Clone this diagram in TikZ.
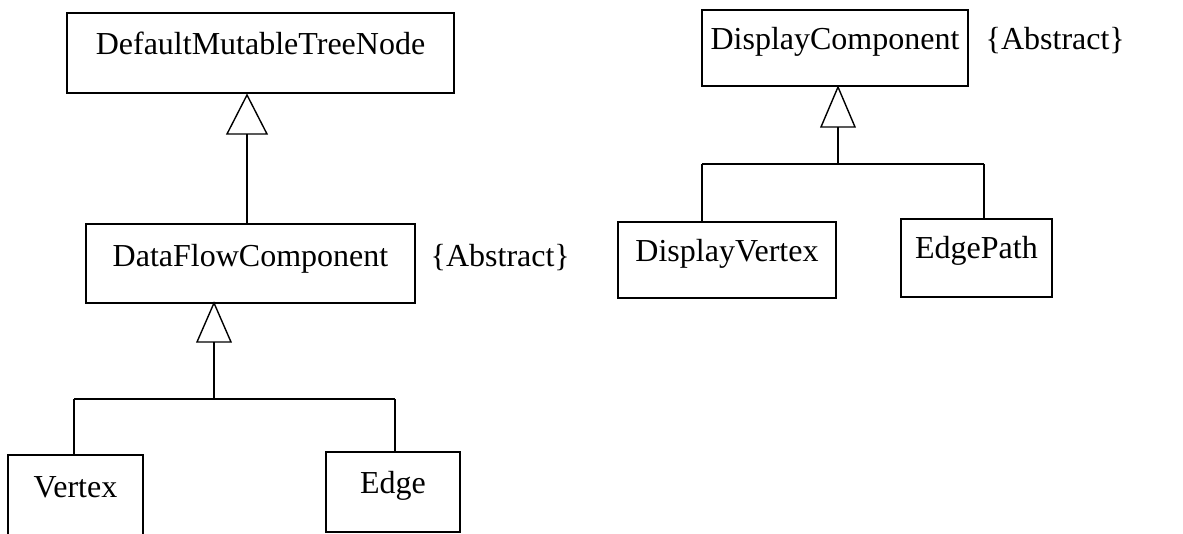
\documentclass[tikz,border=0pt]{standalone}
\usepackage{fontspec}
\setmainfont{Liberation Serif}
\begin{document}
\begin{tikzpicture}[x=1pt,y=-1pt,line width=1.4pt,
  cls/.style={draw,rectangle,inner sep=0pt},
  lbl/.style={anchor=base,inner sep=0pt,font=\fontsize{32}{38}\selectfont},
  gen/.style={draw,fill=white,line join=miter}]
\useasboundingbox (0,0) rectangle (1183,534);
\clip (0,0) rectangle (1183,534);
% boxes
\node[cls,minimum width=387pt,minimum height=80pt] (dmtn) at (260.5,53) {};
\node[cls,minimum width=329pt,minimum height=79pt] (dfc) at (250.5,263.5) {};
\node[cls,minimum width=135pt,minimum height=84pt] (vtx) at (75.5,497) {};
\node[cls,minimum width=134pt,minimum height=80pt] (edge) at (393,492) {};
\node[cls,minimum width=266pt,minimum height=76pt] (dc) at (835,48) {};
\node[cls,minimum width=218pt,minimum height=76pt] (dv) at (727,260) {};
\node[cls,minimum width=151pt,minimum height=78pt] (ep) at (976.5,258) {};
% labels
\node[lbl] (dmtnT) at (260.5,55) {DefaultMutableTreeNode};
\node[lbl] (dfcT) at (250.5,267) {DataFlowComponent};
\node[lbl,anchor=base west] (abs1) at (430,267) {\{Abstract\}};
\node[lbl] (vtxT) at (75.5,497) {Vertex};
\node[lbl] (edgeT) at (393,493) {Edge};
\node[lbl] (dcT) at (835,50) {DisplayComponent};
\node[lbl,anchor=base west] (abs2) at (985,50) {\{Abstract\}};
\node[lbl] (dvT) at (727,262) {DisplayVertex};
\node[lbl] (epT) at (976.5,259) {EdgePath};
% generalization 1
\coordinate (t1) at (247,134);
\draw (t1) -- (247,0 |- dfc.north);
\draw[gen] (247,95) -- (267,134) -- (227,134) -- cycle;
% generalization 2
\coordinate (t2) at (214,342);
\coordinate (j2) at (214,399);
\coordinate (j2l) at (74,399);
\coordinate (j2r) at (395,399);
\draw (t2) -- (j2);
\draw (j2l) -- (j2r);
\draw (j2l) -- (j2l |- vtx.north);
\draw (j2r) -- (j2r |- edge.north);
\draw[gen] (214,303) -- (231,342) -- (197,342) -- cycle;
% generalization 3
\coordinate (t3) at (838,127);
\coordinate (j3) at (838,164);
\coordinate (j3l) at (702,164);
\coordinate (j3r) at (984,164);
\draw (t3) -- (j3);
\draw (j3l) -- (j3r);
\draw (j3l) -- (j3l |- dv.north);
\draw (j3r) -- (j3r |- ep.north);
\draw[gen] (838,87) -- (855,127) -- (821,127) -- cycle;
\end{tikzpicture}
\end{document}
